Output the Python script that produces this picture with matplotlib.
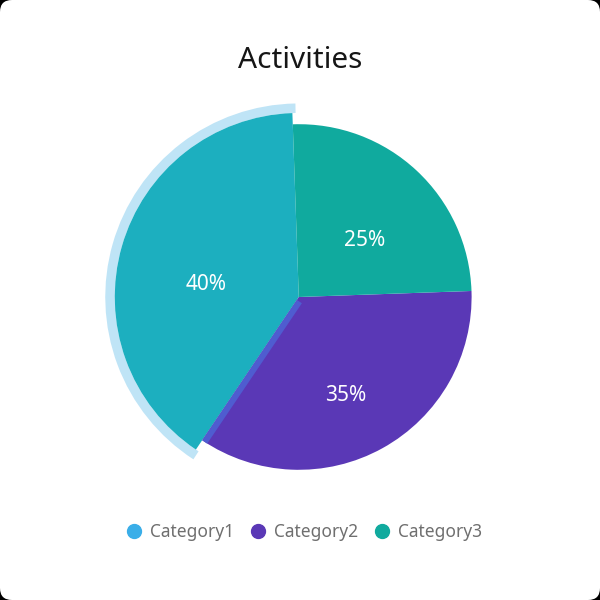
import numpy as np
import matplotlib
matplotlib.use("Agg")
import matplotlib.pyplot as plt
from matplotlib.patches import Wedge, FancyBboxPatch, Polygon
from matplotlib.lines import Line2D

plt.rcParams['font.family'] = ['Noto Sans', 'DejaVu Sans']

# dados
categories = ["Category1", "Category2", "Category3"]
values = [40, 35, 25]
slice_colors = ["#1cafbf", "#5a38b6", "#10aa9e"]
legend_colors = ["#3aaee8", "#5a38b6", "#10aa9e"]
title = "Activities"

fig = plt.figure(figsize=(6, 6), dpi=100, facecolor="black")
# fundo branco com cantos arredondados
fig.patches.append(FancyBboxPatch((0.012, 0.012), 0.976, 0.976,
                                  boxstyle="round,pad=0.012,rounding_size=0.02",
                                  transform=fig.transFigure, facecolor="white",
                                  edgecolor="none", zorder=-10))

ax = fig.add_axes([0.498 - 0.288, 0.505 - 0.288, 0.576, 0.576])
ax.set_zorder(5)
start = 92
wedges, texts, autotexts = ax.pie(values, colors=slice_colors, startangle=start,
                                  counterclock=True, radius=1,
                                  autopct="%1.0f%%", pctdistance=0.56,
                                  wedgeprops=dict(linewidth=0),
                                  textprops=dict(color="white", fontsize=15))
# rótulos um pouco mais abaixo, como no original
for t in autotexts:
    x, y = t.get_position()
    t.set_position((x, y - 0.08))

# destaque (hover) da primeira fatia: fatia ampliada + anel claro
t1 = start + values[0] / sum(values) * 360
wedges[0].set_radius(1.065)
ax.add_patch(Wedge((0, 0), 1.12, start - 1, t1 + 1, width=0.055,
                   facecolor="#bfe4f6", edgecolor="none", zorder=0.5, clip_on=False))
# faixa de sombra na borda entre Category1 e Category2
a = np.deg2rad(t1)
u = np.array([np.cos(a), np.sin(a)])
n = np.array([np.cos(a + np.pi / 2), np.sin(a + np.pi / 2)])
band = [u * 0.02, u * 1.0, u * 1.0 + n * 0.035, u * 0.02 + n * 0.035]
ax.add_patch(Polygon(band, closed=True, facecolor="#4f5cd0", edgecolor="none", zorder=2))
for w in wedges:
    w.set_clip_on(False)
ax.set_xlim(-1, 1)
ax.set_ylim(-1, 1)
ax.set_aspect("equal")
ax.axis("off")

fig.text(0.5, 1 - 61 / 600, title, ha="center", va="center", fontsize=21.5,
         color="#161616", zorder=5)

handles = [Line2D([], [], marker="o", linestyle="none", markersize=10,
                  markerfacecolor=c, markeredgecolor=c) for c in legend_colors]
leg = fig.legend(handles, categories, loc="center", bbox_to_anchor=(0.505, 1 - 532 / 600),
                 ncol=3, frameon=False, handletextpad=0.35, columnspacing=0.75,
                 fontsize=12.5, handlelength=1.2)
leg.set_zorder(5)
for t in leg.get_texts():
    t.set_color("#6f6f6f")

fig.savefig("out.png", dpi=100, facecolor="black")
